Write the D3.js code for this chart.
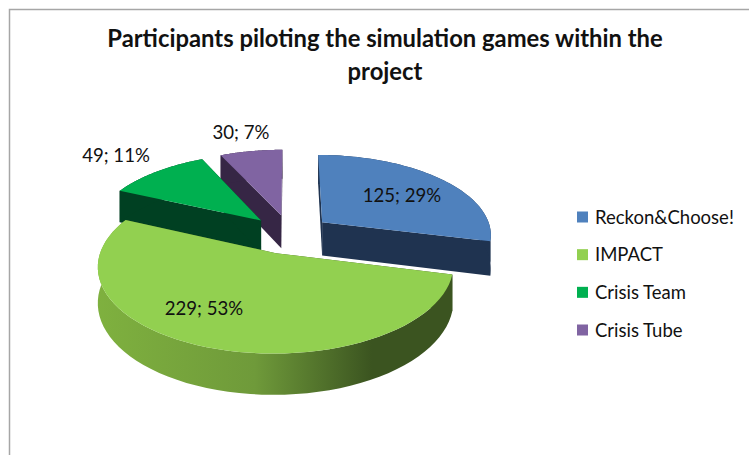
<!DOCTYPE html>
<html lang="en">
<head>
<style>
    html, body { margin: 0; padding: 0; background: #fff; }
    svg { display: block; }
    text { font-family: Lato, "Open Sans", sans-serif; fill: #111; }
</style>
</head>
<body>
    <script src="https://d3js.org/d3.v7.min.js"></script>
    <svg width="749" height="455"></svg>

    <script>
        var categories = ["Reckon&Choose!", "IMPACT", "Crisis Team", "Crisis Tube"];
        var values = [125, 229, 49, 30];
        var titleLines = ["Participants piloting the simulation games within the", "project"];

        var topColors = ["#4f81bd", "#92d050", "#00b050", "#8064a2"];
        var wallColors = ["#1f3350", "#3b5420", "#004022", "#362645"];

        var svg = d3.select("svg");

        // frame of the chart area, only left and top show in the crop
        svg.append("path")
            .attr("d", "M9.5,455V9.5H749")
            .attr("fill", "none")
            .attr("stroke", "#a6a6a6")
            .attr("stroke-width", 1.5);

        svg.selectAll(".title")
            .data(titleLines)
            .enter().append("text")
            .attr("class", "title")
            .attr("x", 385)
            .attr("y", function (d, i) { return 47 + i * 33; })
            .attr("text-anchor", "middle")
            .attr("font-size", "23.8px")
            .attr("font-weight", "bold")
            .text(function (d) { return d; });

        // perspective projection of the tilted pie
        var cx = 290, cy = 234;
        var scaleU = 170, scaleV = 80, persp = 0.143, depth = 34, explode = 0.245;

        function project(u, v, down) {
            var p = 1 / (1 + persp * v);
            return [cx + scaleU * u * p, cy - scaleV * v * p + (down ? depth * p : 0)];
        }

        var arcs = d3.pie().sort(null).startAngle(0).endAngle(2 * Math.PI)(values);
        var total = d3.sum(values);
        var line = d3.line();

        var defs = svg.append("defs");
        var grad = defs.append("linearGradient")
            .attr("id", "impactWall")
            .attr("gradientUnits", "userSpaceOnUse")
            .attr("x1", 95).attr("x2", 450).attr("y1", 0).attr("y2", 0);
        grad.append("stop").attr("offset", "0").attr("stop-color", "#7fb13f");
        grad.append("stop").attr("offset", "0.45").attr("stop-color", "#6f9a3a");
        grad.append("stop").attr("offset", "0.78").attr("stop-color", "#3b5420");
        grad.append("stop").attr("offset", "1").attr("stop-color", "#3b5420");

        // back slices first, the big front slice goes last
        [3, 2, 0, 1].forEach(function (i) {
            var a = arcs[i];
            var mid = (a.startAngle + a.endAngle) / 2;
            var ou = explode * Math.sin(mid), ov = explode * Math.cos(mid);
            var steps = d3.range(0, 61).map(function (k) {
                return a.startAngle + (a.endAngle - a.startAngle) * k / 60;
            });
            var rim = steps.map(function (t) { return [ou + Math.sin(t), ov + Math.cos(t)]; });
            var g = svg.append("g");
            var wallFill = i === 1 ? "url(#impactWall)" : wallColors[i];

            // the two radial walls
            [rim[0], rim[rim.length - 1]].forEach(function (e) {
                g.append("path")
                    .attr("d", line([project(ou, ov), project(e[0], e[1]), project(e[0], e[1], true), project(ou, ov, true)]) + "Z")
                    .attr("fill", wallColors[i]);
            });

            // outer wall
            var wall = rim.map(function (e) { return project(e[0], e[1]); })
                .concat(rim.slice().reverse().map(function (e) { return project(e[0], e[1], true); }));
            g.append("path").attr("d", line(wall) + "Z").attr("fill", wallFill);

            // top face
            var face = [project(ou, ov)].concat(rim.map(function (e) { return project(e[0], e[1]); }));
            g.append("path").attr("d", line(face) + "Z").attr("fill", topColors[i]);
        });

        // data labels
        var labelX = [402, 204, 116, 241];
        var labelY = [202, 315, 162, 139];
        var pct = d3.format(".0%");
        svg.selectAll(".label")
            .data(values)
            .enter().append("text")
            .attr("class", "label")
            .attr("x", function (d, i) { return labelX[i]; })
            .attr("y", function (d, i) { return labelY[i]; })
            .attr("text-anchor", "middle")
            .attr("font-size", "18.6px")
            .text(function (d) { return d + "; " + pct(d / total); });

        // legend
        var legendY = d3.scalePoint().domain(categories).range([217, 330]);
        var legend = svg.selectAll(".legend")
            .data(categories)
            .enter().append("g")
            .attr("class", "legend")
            .attr("transform", function (d) { return "translate(577," + legendY(d) + ")"; });
        legend.append("rect")
            .attr("y", -5.5)
            .attr("width", 11)
            .attr("height", 11)
            .attr("fill", function (d, i) { return topColors[i]; });
        legend.append("text")
            .attr("x", 18)
            .attr("y", 6.5)
            .attr("font-size", "18.5px")
            .text(function (d) { return d; });
    </script>
</body>
</html>
